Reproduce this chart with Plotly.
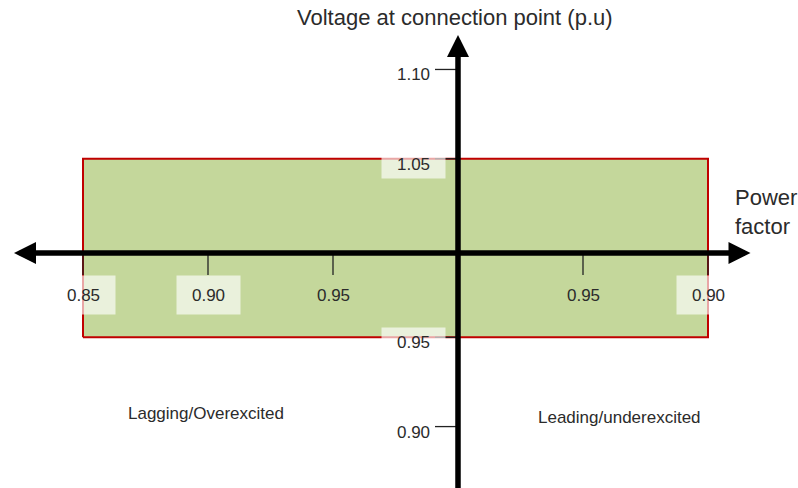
import plotly.graph_objects as go

# power factor ticks: -1 = lagging (left), +1 = leading (right)
pf_values = [0.85, 0.90, 0.95, 0.95, 0.90]
pf_side = [-1, -1, -1, 1, 1]
pf_labels = ['0.85', '0.90', '0.95', '0.95', '0.90']

# voltage ticks (p.u)
v_values = [1.10, 1.05, 0.95, 0.90]
v_labels = ['1.10', '1.05', '0.95', '0.90']

# allowed operating band
band_pf_lagging = 0.85
band_pf_leading = 0.90
band_v_low = 0.95
band_v_high = 1.05

FONT = 'Liberation Sans, Arial, sans-serif'
TXT = '#2b2b2b'
GREEN = '#c4d79b'
RED = '#c00000'
BOX = 'rgba(255,255,255,0.65)'


def pf_x(pf, side):
    return side * (1 - pf)


fig = go.Figure()

# operating band rectangle
x_lo = pf_x(band_pf_lagging, -1)
x_hi = pf_x(band_pf_leading, 1)
fig.add_trace(go.Scatter(
    x=[x_lo, x_hi, x_hi, x_lo, x_lo],
    y=[band_v_low, band_v_low, band_v_high, band_v_high, band_v_low],
    mode='lines', fill='toself', fillcolor=GREEN,
    line=dict(color=RED, width=2), hoverinfo='skip', showlegend=False
))

# axis arrows (horizontal one sits a few px under the 1.0 level, as drawn)
fig.add_annotation(x=-0.1776, y=1.0, ax=0.1176, ay=1.0, xref='x', yref='y',
                   axref='x', ayref='y', text='', showarrow=True, yshift=-5,
                   arrowside='end+start', arrowhead=2, startarrowhead=2,
                   arrowsize=0.8, startarrowsize=0.8, arrowwidth=5.5,
                   arrowcolor='black')
fig.add_annotation(x=0, y=1.1193, ax=0, ay=0.85, xref='x', yref='y',
                   axref='x', ayref='y', text='', showarrow=True,
                   arrowhead=2, arrowsize=0.8, arrowwidth=5.5,
                   arrowcolor='black')

# power factor ticks + labels
pf_boxed = [True, True, False, False, True]
for pf, side, lab, boxed in zip(pf_values, pf_side, pf_labels, pf_boxed):
    xv = pf_x(pf, side)
    fig.add_shape(type='line', xref='x', yref='y', ysizemode='pixel',
                  yanchor=1.0, x0=xv, x1=xv, y0=-5, y1=-27,
                  line=dict(color='#222', width=1.3))
    fig.add_annotation(x=xv, y=1.0, xref='x', yref='y', text=lab,
                       showarrow=False, yshift=-47, width=61, height=36,
                       bgcolor=BOX if boxed else 'rgba(0,0,0,0)',
                       font=dict(family=FONT, size=17, color=TXT))

# voltage ticks + labels
v_boxed = [False, True, True, False]
for v, lab, boxed in zip(v_values, v_labels, v_boxed):
    fig.add_shape(type='line', xref='x', yref='y', xsizemode='pixel',
                  xanchor=0, x0=-23, x1=0, y0=v, y1=v,
                  line=dict(color='#222', width=1.3))
    fig.add_annotation(x=0, y=v, xref='x', yref='y', text=lab,
                       showarrow=False, xshift=-45, yshift=-5, width=61,
                       height=26, bgcolor=BOX if boxed else 'rgba(0,0,0,0)',
                       font=dict(family=FONT, size=17, color=TXT))

# axis titles and region labels
fig.add_annotation(x=0, y=1 - 18 / 488, xref='x', yref='paper', xshift=-3,
                   yanchor='middle', text='Voltage at connection point (p.u)',
                   showarrow=False, font=dict(family=FONT, size=22, color=TXT))
fig.add_annotation(x=0.11, y=1.02, xref='x', yref='y', xanchor='left',
                   align='left', text='Power<br>factor', showarrow=False,
                   font=dict(family=FONT, size=22, color=TXT))
fig.add_annotation(x=-0.1008, y=1 - 413 / 488, xref='x', yref='paper',
                   yanchor='middle', text='Lagging/Overexcited', showarrow=False,
                   font=dict(family=FONT, size=17, color=TXT))
fig.add_annotation(x=0.0644, y=1 - 417 / 488, xref='x', yref='paper',
                   yanchor='middle', text='Leading/underexcited', showarrow=False,
                   font=dict(family=FONT, size=17, color=TXT))

fig.update_xaxes(visible=False, range=[-0.1832, 0.136], fixedrange=True)
fig.update_yaxes(visible=False, range=[0.8656, 1.1389], fixedrange=True)
fig.update_layout(
    width=798, height=488, autosize=False,
    margin=dict(l=0, r=0, t=0, b=0),
    plot_bgcolor='white', paper_bgcolor='white',
    showlegend=False
)

fig.write_html('out.html', config={'displayModeBar': False},
               post_script="document.body.style.margin='0px';")
